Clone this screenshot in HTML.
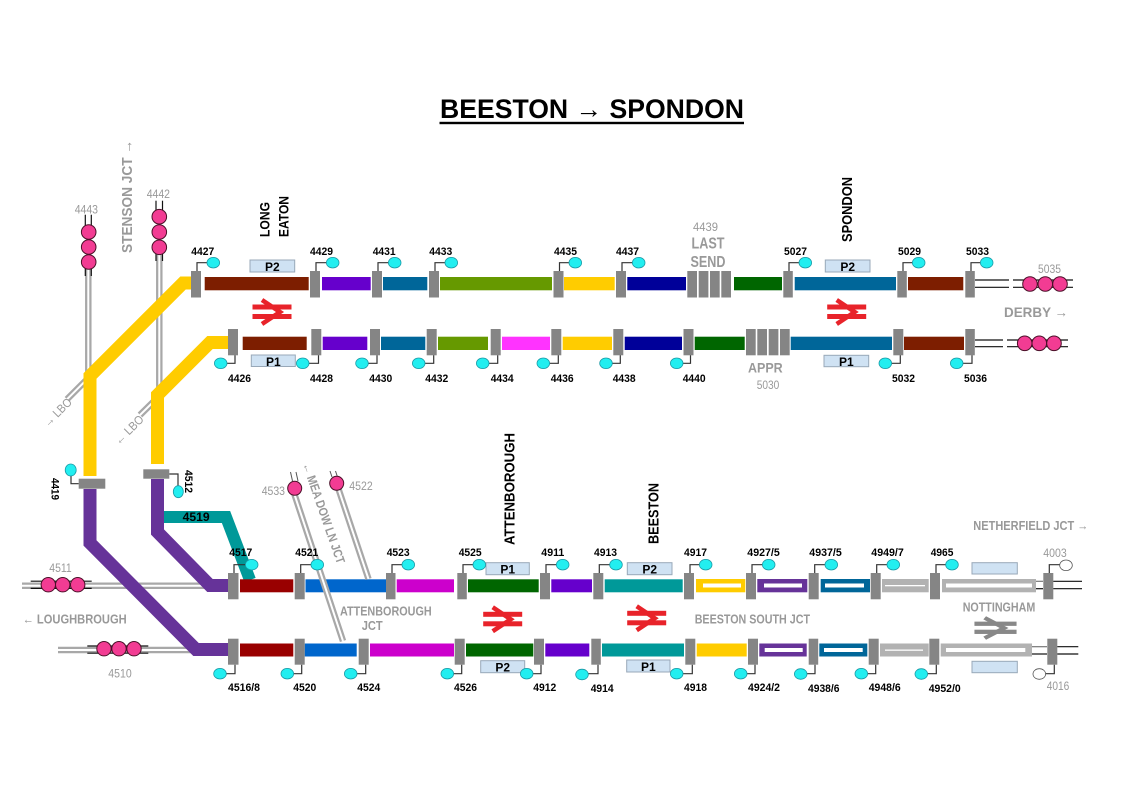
<!DOCTYPE html>
<html><head><meta charset="utf-8"><style>
html,body{margin:0;padding:0;background:#fff;width:1123px;height:794px;overflow:hidden}
svg{display:block;font-family:"Liberation Sans",Arial,sans-serif}
.n{font-size:11px;font-weight:bold;fill:#000}
.g{font-size:12px;fill:#999}
.gb{font-weight:bold;fill:#999}
.vb{font-weight:bold;fill:#000}
.b{fill:#858585}
.c{fill:#22eef0;stroke:#1a9aa6;stroke-width:.8}
.w{fill:#fff;stroke:#555;stroke-width:.8}
.l{fill:none;stroke:#333;stroke-width:1.2}
.p{fill:#cfe2f3;stroke:#98a8b8;stroke-width:1}
.pt{font-size:12px;font-weight:bold;fill:#000}
.s{fill:#f23c93;stroke:#4a1028;stroke-width:1}
.tg{fill:none;stroke:#a8a8a8;stroke-width:6.5}
.tw{fill:none;stroke:#fff;stroke-width:2}
.k{stroke:#111;stroke-width:1.2}
</style></head><body>
<svg width="1123" height="794" viewBox="0 0 1123 794">
<defs>
<g id="br"><rect x="-19" y="-7" width="38" height="4"/><rect x="-19" y="2.5" width="38" height="4"/><path d="M-10 -12 L8 0 L-10 12" fill="none" stroke-width="4.5"/></g>
</defs>

<!-- title -->
<text x="440" y="118" font-size="27" font-weight="bold" textLength="304" lengthAdjust="spacingAndGlyphs">BEESTON → SPONDON</text>
<rect x="439.5" y="121.8" width="304.5" height="2.4" fill="#000"/>

<!-- gray tracks -->
<polyline class="tg" points="88.3,269 88.3,378 67,399.3"/>
<polyline class="tw" points="88.3,269 88.3,378 67,399.3"/>
<polyline class="tg" points="159.3,255 159.3,396 140,415"/>
<polyline class="tw" points="159.3,255 159.3,396 140,415"/>
<line class="tg" x1="22" y1="585.7" x2="210" y2="585.7"/>
<line class="tw" x1="22" y1="585.7" x2="210" y2="585.7"/>
<line class="tg" x1="58" y1="650" x2="200" y2="650"/>
<line class="tw" x1="58" y1="650" x2="200" y2="650"/>

<!-- routes -->
<polyline points="191,283 183,283 90,376 90,476" fill="none" stroke="#ffcc00" stroke-width="13"/>
<polyline points="228,342.5 210,342.5 157.5,395 157.5,464" fill="none" stroke="#ffcc00" stroke-width="13"/>
<polyline points="158,517 226,517 250,580" fill="none" stroke="#009999" stroke-width="12"/>
<polyline points="90,489 90,543 196,649.5 229,649.5" fill="none" stroke="#663399" stroke-width="13"/>
<polyline points="157.5,479 157.5,532 210,585.5 229,585.5" fill="none" stroke="#663399" stroke-width="13"/>
<rect x="78.7" y="478.7" width="26.6" height="10" class="b"/>
<rect x="143.3" y="469.3" width="26" height="9.4" class="b"/>

<!-- signal heads left -->
<line class="k" x1="85.3" y1="214.7" x2="85.3" y2="226"/><line class="k" x1="91.3" y1="214.7" x2="91.3" y2="226"/>
<line class="k" x1="85.3" y1="268" x2="85.3" y2="276"/><line class="k" x1="91.3" y1="268" x2="91.3" y2="276"/>
<circle class="s" cx="88.7" cy="232" r="7.3"/><circle class="s" cx="88.7" cy="247" r="7.3"/><circle class="s" cx="88.7" cy="262" r="7.3"/>
<line class="k" x1="156" y1="200.7" x2="156" y2="210"/><line class="k" x1="162.5" y1="200.7" x2="162.5" y2="210"/>
<line class="k" x1="156" y1="254" x2="156" y2="261"/><line class="k" x1="162.5" y1="254" x2="162.5" y2="261"/>
<circle class="s" cx="159.3" cy="216.7" r="7.3"/><circle class="s" cx="159.3" cy="232" r="7.3"/><circle class="s" cx="159.3" cy="247.3" r="7.3"/>

<line class="k" x1="30.7" y1="581.2" x2="91.7" y2="581.2"/><line class="k" x1="30.7" y1="588.4" x2="91.7" y2="588.4"/>
<circle class="s" cx="48.3" cy="584.7" r="7.2"/><circle class="s" cx="62.7" cy="584.7" r="7.2"/><circle class="s" cx="77.7" cy="584.7" r="7.2"/>
<line class="k" x1="87.3" y1="646" x2="148.3" y2="646"/><line class="k" x1="87.3" y1="653.2" x2="148.3" y2="653.2"/>
<circle class="s" cx="104" cy="648.7" r="7.2"/><circle class="s" cx="119" cy="648.7" r="7.2"/><circle class="s" cx="134" cy="648.7" r="7.2"/>

<!-- ROW 1 bars -->
<rect x="204.7" y="277" width="104" height="13.3" fill="#7d1e00"/>
<rect x="322" y="277" width="48.7" height="13.3" fill="#6600cc"/>
<rect x="383" y="277" width="44.3" height="13.3" fill="#006699"/>
<rect x="440" y="277" width="112" height="13.3" fill="#669900"/>
<rect x="564" y="277" width="50.7" height="13.3" fill="#ffcc00"/>
<rect x="627.3" y="277" width="58.7" height="13.3" fill="#000099"/>
<rect x="734" y="277" width="48" height="13.3" fill="#006600"/>
<rect x="794.7" y="277" width="101.3" height="13.3" fill="#006699"/>
<rect x="908" y="277" width="55.3" height="13.3" fill="#7d1e00"/>
<g class="b">
<rect x="191" y="271" width="10" height="26.5"/><rect x="310" y="271" width="10" height="26.5"/>
<rect x="372" y="271" width="10" height="26.5"/><rect x="429" y="271" width="10" height="26.5"/>
<rect x="553.5" y="271" width="10" height="26.5"/><rect x="616" y="271" width="10" height="26.5"/>
<rect x="687.3" y="271" width="9.7" height="26.5"/><rect x="698.7" y="271" width="9.7" height="26.5"/>
<rect x="710" y="271" width="9.7" height="26.5"/><rect x="721.3" y="271" width="9.7" height="26.5"/>
<rect x="783.3" y="271" width="9.5" height="26.5"/><rect x="897.3" y="271" width="9.5" height="26.5"/>
<rect x="965.3" y="271" width="9.5" height="26.5"/>
</g>
<line class="k" x1="975" y1="280" x2="1009" y2="280"/><line class="k" x1="975" y1="287.3" x2="1009" y2="287.3"/>
<line class="k" x1="1013" y1="280" x2="1073" y2="280"/><line class="k" x1="1013" y1="287.3" x2="1073" y2="287.3"/>
<circle class="s" cx="1030" cy="284" r="7.3"/><circle class="s" cx="1045.3" cy="284" r="7.3"/><circle class="s" cx="1060" cy="284" r="7.3"/>

<!-- ROW 2 bars -->
<rect x="242.7" y="336.7" width="64" height="13.3" fill="#7d1e00"/>
<rect x="322.7" y="336.7" width="44.6" height="13.3" fill="#6600cc"/>
<rect x="381" y="336.7" width="44.3" height="13.3" fill="#006699"/>
<rect x="438" y="336.7" width="50" height="13.3" fill="#669900"/>
<rect x="502" y="336.7" width="48" height="13.3" fill="#ff33ff"/>
<rect x="562.7" y="336.7" width="49.3" height="13.3" fill="#ffcc00"/>
<rect x="624.7" y="336.7" width="57.3" height="13.3" fill="#000099"/>
<rect x="694.7" y="336.7" width="50" height="13.3" fill="#006600"/>
<rect x="790.7" y="336.7" width="101.3" height="13.3" fill="#006699"/>
<rect x="904" y="336.7" width="60" height="13.3" fill="#7d1e00"/>
<g class="b">
<rect x="228" y="329" width="10" height="26.3"/><rect x="311.3" y="329" width="10" height="26.3"/>
<rect x="370" y="329" width="10" height="26.3"/><rect x="426.7" y="329" width="10" height="26.3"/>
<rect x="490.7" y="329" width="10" height="26.3"/><rect x="551.3" y="329" width="10" height="26.3"/>
<rect x="613.3" y="329" width="10" height="26.3"/><rect x="683.5" y="329" width="10" height="26.3"/>
<rect x="746" y="329" width="9.7" height="26.3"/><rect x="757.3" y="329" width="9.7" height="26.3"/>
<rect x="768.7" y="329" width="9.7" height="26.3"/><rect x="780" y="329" width="9.7" height="26.3"/>
<rect x="893.3" y="329" width="10" height="26.3"/><rect x="965.3" y="329" width="9.5" height="26.3"/>
</g>
<line class="k" x1="975" y1="340" x2="1003" y2="340"/><line class="k" x1="975" y1="346.7" x2="1003" y2="346.7"/>
<line class="k" x1="1007" y1="340" x2="1068" y2="340"/><line class="k" x1="1007" y1="346.7" x2="1068" y2="346.7"/>
<circle class="s" cx="1024.7" cy="343.3" r="7.3"/><circle class="s" cx="1039.3" cy="343.3" r="7.3"/><circle class="s" cx="1054" cy="343.3" r="7.3"/>

<!-- ROW 3 bars -->
<rect x="240" y="579.3" width="53.3" height="13" fill="#990000"/>
<rect x="305.5" y="579.3" width="80.5" height="13" fill="#0066cc"/>
<rect x="396.7" y="579.3" width="57.3" height="13" fill="#cc00cc"/>
<rect x="468" y="579.3" width="70.7" height="13" fill="#006600"/>
<rect x="551.3" y="579.3" width="40.7" height="13" fill="#6600cc"/>
<rect x="604.7" y="579.3" width="78" height="13" fill="#009999"/>
<rect x="696" y="579" width="49.3" height="13.3" fill="#ffcc00"/><rect x="703" y="583.5" width="38" height="4" fill="#fff"/>
<rect x="757.3" y="579" width="50" height="13.3" fill="#663399"/><rect x="764" y="583.5" width="38" height="4" fill="#fff"/>
<rect x="820.7" y="579" width="49.3" height="13.3" fill="#006699"/><rect x="825" y="583.5" width="39" height="4" fill="#fff"/>
<rect x="882" y="579" width="46.7" height="13.3" fill="#b2b2b2"/><rect x="885" y="585" width="40" height="1.3" fill="#fff"/>
<rect x="942" y="579" width="94" height="13.3" fill="#b2b2b2"/><rect x="946" y="583.5" width="86" height="4" fill="#fff"/>
<g class="b">
<rect x="228" y="573" width="10.5" height="26.3"/><rect x="294.7" y="573" width="10" height="26.3"/>
<rect x="386" y="573" width="9.5" height="26.3"/><rect x="457.3" y="573" width="9.5" height="26.3"/>
<rect x="540" y="573" width="10" height="26.3"/><rect x="593.3" y="573" width="10" height="26.3"/>
<rect x="684" y="573" width="10" height="26.3"/><rect x="746" y="573" width="10" height="26.3"/>
<rect x="808.7" y="573" width="10" height="26.3"/><rect x="870.7" y="573" width="10" height="26.3"/>
<rect x="930" y="573" width="10" height="26.3"/><rect x="1043.3" y="573" width="10" height="26.3"/>
</g>
<line x1="1036" y1="581.3" x2="1043" y2="581.3" stroke="#777" stroke-width="1.2"/><line class="k" x1="1036" y1="588.7" x2="1043" y2="588.7"/>
<line class="k" x1="1053.3" y1="581.3" x2="1082" y2="581.3"/><line class="k" x1="1053.3" y1="588.7" x2="1082" y2="588.7"/>

<!-- ROW 4 bars -->
<rect x="240" y="643.5" width="53.3" height="13" fill="#990000"/>
<rect x="304.7" y="643.5" width="52" height="13" fill="#0066cc"/>
<rect x="370" y="643.5" width="84" height="13" fill="#cc00cc"/>
<rect x="466" y="643.5" width="67.3" height="13" fill="#006600"/>
<rect x="545.3" y="643.5" width="44" height="13" fill="#6600cc"/>
<rect x="602" y="643.5" width="82" height="13" fill="#009999"/>
<rect x="696.7" y="643.5" width="50" height="13" fill="#ffcc00"/>
<rect x="759.3" y="643.5" width="47.4" height="13" fill="#663399"/><rect x="764.7" y="648" width="38" height="4" fill="#fff"/>
<rect x="819.3" y="643.5" width="48" height="13" fill="#006699"/><rect x="824" y="648" width="38.7" height="4" fill="#fff"/>
<rect x="880" y="643.5" width="48.7" height="13" fill="#b2b2b2"/><rect x="885" y="649.5" width="38" height="1.3" fill="#fff"/>
<rect x="940.7" y="643.5" width="91.3" height="13" fill="#b2b2b2"/><rect x="946" y="648" width="79.3" height="4" fill="#fff"/>
<g class="b">
<rect x="228" y="638.7" width="10.5" height="26"/><rect x="294.7" y="638.7" width="10" height="26"/>
<rect x="358.7" y="638.7" width="10" height="26"/><rect x="454.7" y="638.7" width="10" height="26"/>
<rect x="534" y="638.7" width="10" height="26"/><rect x="591.3" y="638.7" width="9.5" height="26"/>
<rect x="685.3" y="638.7" width="10" height="26"/><rect x="748" y="638.7" width="10" height="26"/>
<rect x="808.7" y="638.7" width="9.5" height="26"/><rect x="868.7" y="638.7" width="10" height="26"/>
<rect x="929.3" y="638.7" width="10" height="26"/><rect x="1047.3" y="638.7" width="10" height="26"/>
</g>
<line x1="1032" y1="646.7" x2="1047" y2="646.7" stroke="#777" stroke-width="1.2"/><line class="k" x1="1032" y1="654" x2="1047" y2="654"/>
<line class="k" x1="1057.3" y1="646.7" x2="1078.3" y2="646.7"/><line class="k" x1="1057.3" y1="654" x2="1078.3" y2="654"/>

<!-- Meadow Lane tracks -->
<line class="tg" x1="293" y1="490" x2="343" y2="641"/><line class="tw" x1="293" y1="490" x2="343" y2="641"/>
<line class="tg" x1="338.5" y1="489" x2="368.5" y2="579"/><line class="tw" x1="338.5" y1="489" x2="368.5" y2="579"/>
<line x1="290.5" y1="472" x2="292.5" y2="481" stroke="#555" stroke-width="1"/><line x1="296" y1="472" x2="298" y2="481" stroke="#555" stroke-width="1"/>
<line x1="330" y1="471" x2="332" y2="477" stroke="#555" stroke-width="1"/><line x1="335.5" y1="471" x2="337.5" y2="477" stroke="#555" stroke-width="1"/>
<circle class="s" cx="294.7" cy="488.3" r="7"/>
<circle class="s" cx="336.7" cy="483.3" r="7"/>

<!-- connectors -->
<path class="l" d="M197 271V262.7H207.3M316 271V262.7H326.7M378 271V262.7H388.7M435 271V262.7H445.3M559.5 271V262.7H569.3M622 271V262.7H632.7M789 271V262.7H799.3M903 271V262.7H912.7M971 271V262.7H980.7"/>
<path class="l" d="M235 355.3V363.3H226.7M318.5 355.3V363.3H308.7M377 355.3V363.3H368M433.7 355.3V363.3H424.7M497.7 355.3V363.3H488.7M558.3 355.3V363.3H549.3M620.3 355.3V363.3H612M690.5 355.3V363.3H682.7M900.3 355.3V363.3H891.3M972 355.3V363.3H962.7"/>
<path class="l" d="M234 573V564.7H245.7M300.7 573V564.7H311.3M392 573V564.7H402.3M463 573V564.7H473.3M546 573V564.7H556.7M599.3 573V564.7H610M690 573V564.7H699.7M752 573V564.7H762.7M814.7 573V564.7H825.3M876.7 573V564.7H887.3M936 573V564.7H946M1049.3 573V564.7H1060"/>
<path class="l" d="M235 664.7V673.7H226M301.7 664.7V673.7H293.3M365.7 664.7V673.7H356.7M461.7 664.7V673.7H453.3M541 664.7V673.7H532.7M598 664.7V673.7H588M692.3 664.7V673.7H682.7M755 664.7V673.7H746.7M815 664.7V673.7H806.7M875.7 664.7V673.7H867.3M936.3 664.7V673.7H927.3M1054.3 664.7V673.7H1045.3"/>
<path class="l" d="M78.7 483.7H71V475.5M169.3 474H178V486"/>

<!-- P boxes -->
<rect class="p" x="250" y="260" width="44.7" height="12"/>
<rect class="p" x="825.3" y="260" width="44.7" height="12"/>
<rect class="p" x="251.3" y="355" width="44" height="11.5"/>
<rect class="p" x="824" y="355.3" width="44.7" height="11.4"/>
<rect class="p" x="486" y="562.7" width="43.3" height="12"/>
<rect class="p" x="627.3" y="562.7" width="44.7" height="12"/>
<rect class="p" x="972" y="562.7" width="45.3" height="11.3"/>
<rect class="p" x="480.7" y="660.7" width="44" height="12"/>
<rect class="p" x="626.7" y="660" width="43.3" height="12"/>
<rect class="p" x="972" y="661.3" width="45.3" height="11.4"/>
<g class="pt" text-anchor="middle">
<text x="272.3" y="271">P2</text><text x="847.7" y="271">P2</text>
<text x="273.3" y="365.8">P1</text><text x="846.3" y="366">P1</text>
<text x="507.7" y="573.7">P1</text><text x="649.7" y="573.7">P2</text>
<text x="502.7" y="671.7">P2</text><text x="648.3" y="671">P1</text>
</g>

<!-- bubbles -->
<g class="c">
<ellipse cx="213.3" cy="262.7" rx="6.3" ry="5.3"/><ellipse cx="332.7" cy="262.7" rx="6.3" ry="5.3"/><ellipse cx="394.7" cy="262.7" rx="6.3" ry="5.3"/><ellipse cx="451.3" cy="262.7" rx="6.3" ry="5.3"/><ellipse cx="575.3" cy="262.7" rx="6.3" ry="5.3"/><ellipse cx="638.7" cy="262.7" rx="6.3" ry="5.3"/><ellipse cx="805.3" cy="262.7" rx="6.3" ry="5.3"/><ellipse cx="918.7" cy="262.7" rx="6.3" ry="5.3"/><ellipse cx="986.7" cy="262.7" rx="6.3" ry="5.3"/>
<ellipse cx="220.7" cy="363.3" rx="6.3" ry="5.3"/><ellipse cx="302.7" cy="363.3" rx="6.3" ry="5.3"/><ellipse cx="362" cy="363.3" rx="6.3" ry="5.3"/><ellipse cx="418.7" cy="363.3" rx="6.3" ry="5.3"/><ellipse cx="482.7" cy="363.3" rx="6.3" ry="5.3"/><ellipse cx="543.3" cy="363.3" rx="6.3" ry="5.3"/><ellipse cx="606" cy="363.3" rx="6.3" ry="5.3"/><ellipse cx="676.7" cy="363.3" rx="6.3" ry="5.3"/><ellipse cx="885.3" cy="363.3" rx="6.3" ry="5.3"/><ellipse cx="956.7" cy="363.3" rx="6.3" ry="5.3"/>
<ellipse cx="251.7" cy="564.7" rx="6.3" ry="5.3"/><ellipse cx="317.3" cy="564.7" rx="6.3" ry="5.3"/><ellipse cx="408.3" cy="564.7" rx="6.3" ry="5.3"/><ellipse cx="479.3" cy="564.7" rx="6.3" ry="5.3"/><ellipse cx="562.7" cy="564.7" rx="6.3" ry="5.3"/><ellipse cx="616" cy="564.7" rx="6.3" ry="5.3"/><ellipse cx="705.7" cy="564.7" rx="6.3" ry="5.3"/><ellipse cx="768.7" cy="564.7" rx="6.3" ry="5.3"/><ellipse cx="831.3" cy="564.7" rx="6.3" ry="5.3"/><ellipse cx="893.3" cy="564.7" rx="6.3" ry="5.3"/><ellipse cx="952" cy="564.7" rx="6.3" ry="5.3"/>
<ellipse cx="220" cy="673.7" rx="6.3" ry="5.3"/><ellipse cx="287.3" cy="673.7" rx="6.3" ry="5.3"/><ellipse cx="350.7" cy="673.7" rx="6.3" ry="5.3"/><ellipse cx="447.3" cy="673.7" rx="6.3" ry="5.3"/><ellipse cx="526.7" cy="673.7" rx="6.3" ry="5.3"/><ellipse cx="582" cy="674.5" rx="6.3" ry="5.3"/><ellipse cx="676.7" cy="673.7" rx="6.3" ry="5.3"/><ellipse cx="740.7" cy="673.7" rx="6.3" ry="5.3"/><ellipse cx="800.7" cy="674" rx="6.3" ry="5.3"/><ellipse cx="861.3" cy="673.7" rx="6.3" ry="5.3"/><ellipse cx="921.3" cy="674" rx="6.3" ry="5.3"/>
<ellipse cx="70.7" cy="470" rx="5.5" ry="6"/><ellipse cx="178.3" cy="491.7" rx="5" ry="6"/>
</g>
<ellipse class="w" cx="1066" cy="565.3" rx="6.3" ry="5.3"/>
<ellipse class="w" cx="1039.3" cy="674" rx="6.3" ry="5.3"/>

<!-- BR logos -->
<use href="#br" transform="translate(272,312)" fill="#e8232a" stroke="#e8232a"/>
<use href="#br" transform="translate(846.7,312)" fill="#e8232a" stroke="#e8232a"/>
<use href="#br" transform="translate(502.7,619.3)" fill="#e8232a" stroke="#e8232a"/>
<use href="#br" transform="translate(646.7,618.3)" fill="#e8232a" stroke="#e8232a"/>
<use href="#br" transform="translate(995.5,628) scale(1.08,0.85)" fill="#888" stroke="#888"/>

<!-- number labels -->
<g class="n">
<text x="191.3" y="255" textLength="23" lengthAdjust="spacingAndGlyphs">4427</text>
<text x="310" y="255" textLength="23" lengthAdjust="spacingAndGlyphs">4429</text>
<text x="372.7" y="255" textLength="23" lengthAdjust="spacingAndGlyphs">4431</text>
<text x="429.3" y="255" textLength="23" lengthAdjust="spacingAndGlyphs">4433</text>
<text x="554" y="255" textLength="23" lengthAdjust="spacingAndGlyphs">4435</text>
<text x="616" y="255" textLength="23" lengthAdjust="spacingAndGlyphs">4437</text>
<text x="784" y="255" textLength="23" lengthAdjust="spacingAndGlyphs">5027</text>
<text x="898" y="255" textLength="23" lengthAdjust="spacingAndGlyphs">5029</text>
<text x="966" y="255" textLength="23" lengthAdjust="spacingAndGlyphs">5033</text>

<text x="228" y="382" textLength="23" lengthAdjust="spacingAndGlyphs">4426</text>
<text x="310" y="382" textLength="23" lengthAdjust="spacingAndGlyphs">4428</text>
<text x="369.3" y="382" textLength="23" lengthAdjust="spacingAndGlyphs">4430</text>
<text x="425.3" y="382" textLength="23" lengthAdjust="spacingAndGlyphs">4432</text>
<text x="490.7" y="382" textLength="23" lengthAdjust="spacingAndGlyphs">4434</text>
<text x="550.7" y="382" textLength="23" lengthAdjust="spacingAndGlyphs">4436</text>
<text x="612.7" y="382" textLength="23" lengthAdjust="spacingAndGlyphs">4438</text>
<text x="682.7" y="382" textLength="23" lengthAdjust="spacingAndGlyphs">4440</text>
<text x="892" y="382" textLength="23" lengthAdjust="spacingAndGlyphs">5032</text>
<text x="964" y="382" textLength="23" lengthAdjust="spacingAndGlyphs">5036</text>

<text x="229.3" y="556" textLength="23" lengthAdjust="spacingAndGlyphs">4517</text>
<text x="295.3" y="556" textLength="23" lengthAdjust="spacingAndGlyphs">4521</text>
<text x="386.7" y="556" textLength="23" lengthAdjust="spacingAndGlyphs">4523</text>
<text x="458.7" y="556" textLength="23" lengthAdjust="spacingAndGlyphs">4525</text>
<text x="541.3" y="556" textLength="23" lengthAdjust="spacingAndGlyphs">4911</text>
<text x="594" y="556" textLength="23" lengthAdjust="spacingAndGlyphs">4913</text>
<text x="684" y="556" textLength="23" lengthAdjust="spacingAndGlyphs">4917</text>
<text x="747.3" y="556" textLength="32.5" lengthAdjust="spacingAndGlyphs">4927/5</text>
<text x="809.3" y="556" textLength="32.5" lengthAdjust="spacingAndGlyphs">4937/5</text>
<text x="871.3" y="556" textLength="32.5" lengthAdjust="spacingAndGlyphs">4949/7</text>
<text x="930.7" y="556" textLength="22.7" lengthAdjust="spacingAndGlyphs">4965</text>

<text x="228" y="691" textLength="32" lengthAdjust="spacingAndGlyphs">4516/8</text>
<text x="293.3" y="691" textLength="23" lengthAdjust="spacingAndGlyphs">4520</text>
<text x="357.3" y="691" textLength="23" lengthAdjust="spacingAndGlyphs">4524</text>
<text x="454" y="691" textLength="23" lengthAdjust="spacingAndGlyphs">4526</text>
<text x="533.3" y="691" textLength="23" lengthAdjust="spacingAndGlyphs">4912</text>
<text x="590.7" y="692" textLength="23" lengthAdjust="spacingAndGlyphs">4914</text>
<text x="684" y="691" textLength="23" lengthAdjust="spacingAndGlyphs">4918</text>
<text x="748" y="691" textLength="32" lengthAdjust="spacingAndGlyphs">4924/2</text>
<text x="808" y="692" textLength="31.5" lengthAdjust="spacingAndGlyphs">4938/6</text>
<text x="868.7" y="691" textLength="32" lengthAdjust="spacingAndGlyphs">4948/6</text>
<text x="928.7" y="692" textLength="32" lengthAdjust="spacingAndGlyphs">4952/0</text>
</g>
<text x="182.7" y="521" font-size="12" font-weight="bold" textLength="27" lengthAdjust="spacingAndGlyphs">4519</text>
<text transform="translate(51.7,478) rotate(90)" class="n" textLength="22" lengthAdjust="spacingAndGlyphs">4419</text>
<text transform="translate(185,470) rotate(90)" class="n" textLength="23" lengthAdjust="spacingAndGlyphs">4512</text>

<!-- gray numbers -->
<g class="g">
<text x="74.7" y="213.5" textLength="23.3" lengthAdjust="spacingAndGlyphs">4443</text>
<text x="146.7" y="198.2" textLength="23.3" lengthAdjust="spacingAndGlyphs">4442</text>
<text x="693" y="231" textLength="25" lengthAdjust="spacingAndGlyphs">4439</text>
<text x="756.7" y="389" textLength="22.6" lengthAdjust="spacingAndGlyphs">5030</text>
<text x="1038" y="273" textLength="23" lengthAdjust="spacingAndGlyphs">5035</text>
<text x="49.3" y="572" textLength="22.4" lengthAdjust="spacingAndGlyphs">4511</text>
<text x="108.3" y="677.5" textLength="23.4" lengthAdjust="spacingAndGlyphs">4510</text>
<text x="261.7" y="495.2" textLength="23.3" lengthAdjust="spacingAndGlyphs">4533</text>
<text x="349.3" y="490.2" textLength="23.4" lengthAdjust="spacingAndGlyphs">4522</text>
<text x="1043.3" y="557" textLength="23.4" lengthAdjust="spacingAndGlyphs">4003</text>
<text x="1046.7" y="690.2" textLength="22.6" lengthAdjust="spacingAndGlyphs">4016</text>
<text transform="translate(57.5,412.5) rotate(-45)" text-anchor="middle" dy="4" textLength="35" lengthAdjust="spacingAndGlyphs">→ LBO</text>
<text transform="translate(129,430) rotate(-45)" text-anchor="middle" dy="4" textLength="36" lengthAdjust="spacingAndGlyphs">← LBO</text>
</g>

<!-- gray bold labels -->
<g class="gb">
<text x="691.5" y="248.5" font-size="16" textLength="33" lengthAdjust="spacingAndGlyphs">LAST</text>
<text x="690.5" y="267.2" font-size="16" textLength="35" lengthAdjust="spacingAndGlyphs">SEND</text>
<text x="748" y="372.3" font-size="14" textLength="34.7" lengthAdjust="spacingAndGlyphs">APPR</text>
<text x="1004" y="317" font-size="14" textLength="64" lengthAdjust="spacingAndGlyphs">DERBY →</text>
<text x="22.7" y="623.3" font-size="13" textLength="104" lengthAdjust="spacingAndGlyphs">← LOUGHBROUGH</text>
<text x="340" y="615.3" font-size="13" textLength="91.7" lengthAdjust="spacingAndGlyphs">ATTENBOROUGH</text>
<text x="361.7" y="630" font-size="13" textLength="21" lengthAdjust="spacingAndGlyphs">JCT</text>
<text x="694.7" y="623.3" font-size="13" textLength="115.3" lengthAdjust="spacingAndGlyphs">BEESTON SOUTH JCT</text>
<text x="973.3" y="530" font-size="12.5" textLength="115" lengthAdjust="spacingAndGlyphs">NETHERFIELD JCT →</text>
<text x="962.7" y="611.3" font-size="13" textLength="72.6" lengthAdjust="spacingAndGlyphs">NOTTINGHAM</text>
<text transform="translate(132,253) rotate(-90)" font-size="15" textLength="113" lengthAdjust="spacingAndGlyphs">STENSON JCT →</text>
<text transform="translate(324,513) rotate(70.8)" text-anchor="middle" dy="4.5" font-size="12.5" textLength="106" lengthAdjust="spacingAndGlyphs">← MEA DOW LN JCT</text>
</g>

<!-- black vertical station labels -->
<g class="vb">
<text transform="translate(269.3,237) rotate(-90)" font-size="14" textLength="35" lengthAdjust="spacingAndGlyphs">LONG</text>
<text transform="translate(288.7,237) rotate(-90)" font-size="14" textLength="41" lengthAdjust="spacingAndGlyphs">EATON</text>
<text transform="translate(852,242) rotate(-90)" font-size="15" textLength="65" lengthAdjust="spacingAndGlyphs">SPONDON</text>
<text transform="translate(514.7,545) rotate(-90)" font-size="15" textLength="112" lengthAdjust="spacingAndGlyphs">ATTENBOROUGH</text>
<text transform="translate(658.3,544) rotate(-90)" font-size="15" textLength="61" lengthAdjust="spacingAndGlyphs">BEESTON</text>
</g>
</svg>
</body></html>
